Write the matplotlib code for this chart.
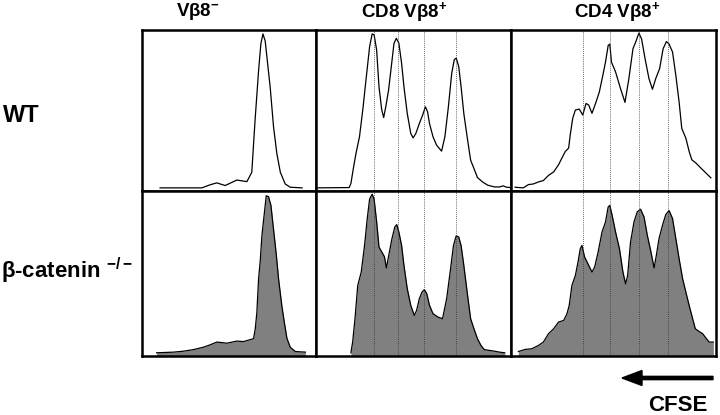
import matplotlib
matplotlib.use("Agg")
import matplotlib.pyplot as plt

plt.rcParams['font.family'] = ['Liberation Sans', 'DejaVu Sans']
plt.rcParams['mathtext.fontset'] = 'custom'
plt.rcParams['mathtext.rm'] = 'Liberation Sans:bold'
plt.rcParams['mathtext.it'] = 'Liberation Sans:bold'
plt.rcParams['mathtext.bf'] = 'Liberation Sans:bold'

# column / row labels
col_titles = ['V\u03b28$^{-}$', 'CD8 V\u03b28$^{+}$', 'CD4 V\u03b28$^{+}$']
row_labels = ['WT', '\u03b2-catenin $^{-/-}$']

# CFSE histograms (x = channel 0-100, y = % of max)
vneg_wt_x = [10.4, 34.4, 39.2, 43, 47.8, 54.5, 60.3, 63.1, 65, 67, 68.3, 69.5, 70.8, 73.7, 75.6, 77.5, 79.5, 82.3, 85.2, 92]
vneg_wt_y = [0, 0, 2, 3.2, 1.5, 5, 4, 10, 43.6, 75, 92, 98.5, 94, 64, 39, 22, 10, 2.5, 0.4, 0]

vneg_ko_x = [8.4, 18, 23.8, 29.6, 35.3, 39.2, 43, 48.8, 54.5, 58.3, 64.1, 65.1, 66, 67, 68, 68.9, 69.9, 71.4, 72.7,
             74.1, 75.6, 77.2, 78.5, 80.4, 81.8, 83.3, 85.2, 88.1, 93.9]
vneg_ko_y = [0, 0.4, 1, 2, 3.5, 5, 6.7, 6, 7.3, 7, 8.8, 15, 25, 46, 58, 73, 83, 98, 97.5,
             92, 77, 61, 46, 29, 19, 9, 3.5, 0.8, 0.4]

cd8_wt_x = [0, 17, 17.9, 19.3, 20.5, 22.3, 24, 25.8, 27.5, 28.8, 29.8, 31.1, 32.3, 33.7, 34.7, 35.8, 37.2, 38.6, 40,
            41.2, 42.5, 43.9, 45.1, 46.8, 48.6, 49.8, 51.2, 53, 54.7, 56.1, 57.2, 58.2, 60, 61.8, 64.4, 66.1, 67.9,
            69.6, 70.9, 71.9, 73.2, 74.4, 75.8, 77.5, 79.3, 81, 82.8, 85.4, 88.1, 91.6, 94.2, 96, 97.7, 100]
cd8_wt_y = [0, 0.2, 2.8, 13.5, 22, 32.7, 50, 71, 90.4, 98.5, 97.9, 88.2, 64.7, 50, 45, 52, 62.4, 77.4, 92.5,
            95.7, 92.5, 79.7, 64.7, 47.6, 34.8, 32, 34.8, 41.2, 46.6, 51.9, 48.7, 41.2, 32.7, 27.4, 23.5, 32.7, 52,
            73.3, 82, 83, 77.6, 64.7, 47.6, 32.7, 17.7, 12.4, 6.6, 3.8, 1.7, 0.6, 0.6, 1.3, 0.4, 0.2]

cd8_ko_x = [17.9, 18.8, 20, 21.4, 23.2, 24.9, 26.3, 27.5, 28.8, 29.8, 31.1, 32.3, 33.7, 35.1, 36.1, 37.5, 38.9, 40.4,
            41.4, 42.5, 43.9, 45.1, 46.8, 48.6, 50.4, 51.6, 53, 54.4, 55.6, 56.8, 58.2, 60, 62.6, 64.9, 67, 68.8,
            70.5, 71.9, 73.2, 74.4, 75.8, 77.5, 79.3, 81, 82.8, 84.6, 86.3, 88.9, 91.6, 94.2, 96.8]
cd8_ko_y = [0, 6.7, 21.3, 42, 50.4, 67, 84, 96, 99, 96, 81.7, 66, 63, 60, 53, 62, 71, 78.5,
            80, 75.4, 67, 54.6, 40, 29.6, 23.3, 26.5, 33.8, 38, 39.4, 36.9, 29.6, 24.4, 22.3, 21.3, 33.8, 50.4,
            67, 73, 72.3, 67, 54.6, 38, 21.3, 15, 8.8, 4.6, 2, 1.5, 1, 0.4, 0]

cd4_wt_x = [2, 6, 8.5, 10.9, 13.4, 15.8, 18.3, 20.8, 23.2, 24.8, 26.5, 28.1, 28.9, 30.1, 31.4, 33.3, 35, 36.6, 37.9,
            39.5, 41.5, 43.1, 44.8, 46.1, 47.4, 48.2, 49, 51, 53.4, 55.6, 57.5, 59.5, 61.1, 62.4, 63.7, 65.4, 67.3,
            69, 70.6, 72.5, 74.2, 75.8, 77.1, 78.8, 80.4, 82, 83.3, 85.3, 86.9, 88.2, 90.2, 92.6, 95.1, 97.5]
cd4_wt_y = [0.4, 0, 2.1, 2.5, 3.8, 4.7, 8, 10.2, 14.8, 19, 23.3, 25.4, 33.9, 44.5, 49.8, 50.4, 46.6, 54, 53,
            47.7, 55, 61.4, 72, 80.5, 91.1, 92, 80.5, 74.2, 63.6, 54.7, 69.9, 89, 94.3, 99, 95.3, 82.6, 69.9,
            63.1, 69.9, 76.3, 89, 93.6, 92, 86.9, 72, 55, 38, 31.8, 23.3, 18, 15.9, 12.7, 9.5, 6.4]

cd4_ko_x = [3.6, 6.9, 10.1, 13.4, 15.8, 18.3, 20.8, 23.2, 25.7, 27.3, 28.4, 29.7, 31.4, 32.7, 33.8, 34.6, 35.9, 37.9,
            39.5, 40.8, 42.5, 44.4, 46.1, 47.4, 48.2, 49.3, 51, 52.9, 54.6, 55.9, 56.9, 58.3, 60, 61.6, 63.2, 64.9,
            66.5, 68.1, 69.8, 70.9, 72.2, 73.9, 75.5, 77.1, 78.8, 80.4, 82, 83.7, 85.3, 86.9, 88.6, 89.9, 91.8,
            93.5, 95.1, 96.7, 98.7]
cd4_ko_y = [0.8, 2.1, 2.5, 4.6, 6.7, 11.9, 15, 19.2, 20.2, 24.4, 29.6, 42, 48.3, 56.7, 65, 67, 59.8, 54.6,
            50.4, 53.5, 62.9, 75.4, 81.7, 91, 92, 86, 75.4, 65, 50.4, 43, 48.3, 69, 81.7, 88, 89.6, 84.8,
            73.3, 64, 53, 60.8, 71.3, 79.6, 86.3, 88.8, 83.8, 71.3, 58.8, 46.3, 37.9, 29.6, 21.3, 15, 13.3,
            11.9, 9.2, 6.7, 6.7]

# division peak markers (dotted guides)
cd8_peaks = [29.6, 42.1, 55.6, 71.8]
cd4_peaks = [35, 48.2, 62.4, 76.5]

W, H = 720, 415
fig = plt.figure(figsize=(7.2, 4.15), dpi=100)

col_px = [(142, 316), (316, 511), (511, 716)]
row_px = [(30, 191), (191, 356)]

data = [
    [(vneg_wt_x, vneg_wt_y), (cd8_wt_x, cd8_wt_y), (cd4_wt_x, cd4_wt_y)],
    [(vneg_ko_x, vneg_ko_y), (cd8_ko_x, cd8_ko_y), (cd4_ko_x, cd4_ko_y)],
]
peaks = [None, cd8_peaks, cd4_peaks]

for r, (y0, y1) in enumerate(row_px):
    for c, (x0, x1) in enumerate(col_px):
        ax = fig.add_axes([x0 / W, 1 - y1 / H, (x1 - x0) / W, (y1 - y0) / H])
        xs, ys = data[r][c]
        if r == 0:
            ax.plot(xs, ys, color='black', lw=0.9)
        else:
            ax.fill_between(xs, ys, -5, color='#808080', lw=0)
            ax.plot(xs, ys, color='black', lw=0.9)
        if peaks[c] is not None:
            for p in peaks[c]:
                ax.axvline(p, color='#333333', lw=0.6, ls=(0, (1, 1.5)))
        ax.set_xlim(0, 100)
        ax.set_ylim(-2, 101)
        ax.set_xticks([])
        ax.set_yticks([])
        for s in ax.spines.values():
            s.set_linewidth(1.8)

# column titles
title_x = [198, 404, 617]
for t, x in zip(col_titles, title_x):
    fig.text(x / W, 1 - 12 / H, t, ha='center', va='center', fontsize=13.5, fontweight='bold')

# row labels
fig.text(3 / W, 1 - 116 / H, row_labels[0], ha='left', va='center', fontsize=17, fontweight='bold')
fig.text(1 / W, 1 - 271 / H, row_labels[1], ha='left', va='center', fontsize=16, fontweight='bold')

# CFSE arrow
fig.patches.append(matplotlib.patches.FancyArrow(
    713 / W, 1 - 378 / H, -91 / W, 0, width=3.3 / H, head_width=15 / H, head_length=20 / W,
    length_includes_head=True, color='black', transform=fig.transFigure, figure=fig))
fig.text(678 / W, 1 - 405 / H, 'CFSE', ha='center', va='center', fontsize=16, fontweight='bold')

fig.savefig('out.png', dpi=100)
